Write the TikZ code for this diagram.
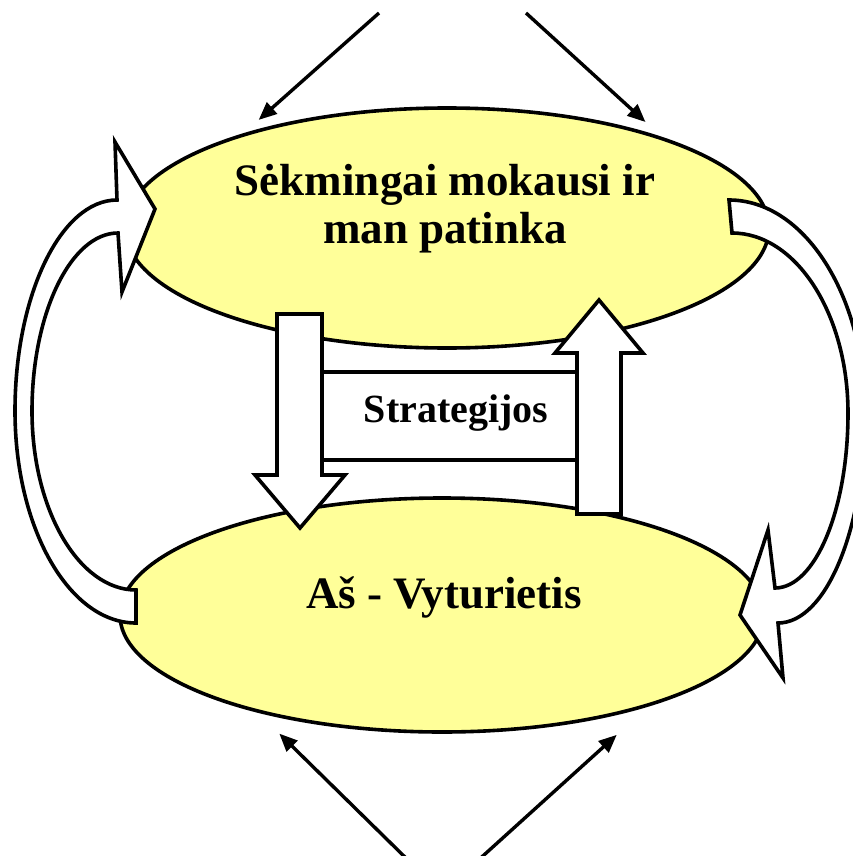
\documentclass[tikz,border=0pt]{standalone}
\usepackage{fontspec}
\setmainfont{Liberation Serif}
\usetikzlibrary{arrows.meta,shapes.geometric}
\definecolor{ellfill}{HTML}{FFFF99}
\begin{document}
\begin{tikzpicture}[x=1pt,y=-1pt,
  ell/.style={ellipse, draw, line width=3.6pt, fill=ellfill, inner sep=0pt, minimum width=644pt, minimum height=240pt},
  lbl/.style={font=\bfseries\fontsize{45}{48}\selectfont, align=center, inner sep=0pt},
  thinarrow/.style={line width=3.4pt, -{Triangle[length=18pt,width=15pt]}},
  blockarrow/.style={draw, line width=3.6pt, fill=white, line join=miter},
]
\useasboundingbox (0,0) rectangle (853,856);
\clip (0,0) rectangle (853,856);

\node[ell] (top) at (447,228) {};
\node[ell, minimum height=234pt] (bot) at (442,615) {};

\coordinate (s1) at (379,13);
\coordinate (s2) at (526,13);
\coordinate (s3) at (412,864);
\coordinate (s4) at (474,864);
\draw[thinarrow, shorten >=20pt] (s1) -- (top.155.7);
\draw[thinarrow, shorten >=22pt] (s2) -- (top.23.3);
\draw[thinarrow, shorten >=29.7pt] (s3) -- (bot.208.2);
\draw[thinarrow, shorten >=42pt] (s4) -- (bot.336.6);

\node[draw, line width=3.6pt, fill=white, minimum width=255pt, minimum height=88pt, inner sep=0pt] (strat) at (449.5,416) {};
\node[font=\bfseries\fontsize{40}{44}\selectfont, anchor=base, inner sep=0pt] (stxt) at (456,422) {Strategijos};

% down block arrow
\draw[blockarrow] (277,314) -- (322,314) -- (322,475) -- (345,475) -- (300,528) -- (255,475) -- (277,475) -- cycle;
% up block arrow
\draw[blockarrow] (577,514) -- (621,514) -- (621,353) -- (643,353) -- (599,300) -- (555,353) -- (577,353) -- cycle;

% left curved arrow
\draw[blockarrow] (136,623) .. controls (69,623) and (15,528) .. (15,411)
  .. controls (15,295) and (61,200) .. (117,200) -- (115,142) -- (155,209) -- (122,292) -- (118,233)
  .. controls (71,233) and (32,313) .. (32,411)
  .. controls (32,510) and (79,590) .. (136,590) -- cycle;

% right curved arrow
\draw[blockarrow] (729,200) .. controls (804,200) and (865,295) .. (865,413)
  .. controls (865,529) and (826,623) .. (778,623) -- (783,678) -- (740,615) -- (768,530) -- (775,588)
  .. controls (815,588) and (848,510) .. (848,413)
  .. controls (848,314) and (796,233) .. (732,233) -- cycle;

\node[lbl] (ttxt) at (445,208.6) {Sėkmingai mokausi ir\\man patinka};
\node[lbl, anchor=base] (btxt) at (444,608) {Aš - Vyturietis};
\end{tikzpicture}
\end{document}
